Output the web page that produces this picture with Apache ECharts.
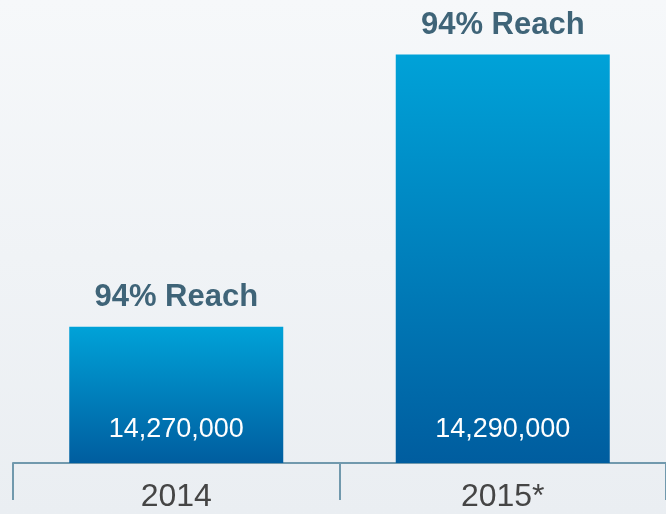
<!DOCTYPE html>
<html>
<head>
<meta charset="utf-8">
<script src="https://cdn.jsdelivr.net/npm/echarts@6/dist/echarts.min.js"></script>
<style>
  html, body { margin: 0; padding: 0; }
  #chart { width: 666px; height: 514px; }
</style>
</head>
<body>
<div id="chart"></div>
<script>
const years = ['2014', '2015*'];
const audience = [14270000, 14290000];
const reach = ['94% Reach', '94% Reach'];

const chart = echarts.init(document.getElementById('chart'));

const barFill = new echarts.graphic.LinearGradient(0, 0, 0, 1, [
  { offset: 0, color: '#00a2d8' },
  { offset: 1, color: '#005d9f' }
]);

const option = {
  backgroundColor: new echarts.graphic.LinearGradient(0, 0, 0, 1, [
    { offset: 0, color: '#f6f8fa' },
    { offset: 1, color: '#eaeef2' }
  ]),
  animation: false,
  grid: { left: 13, width: 654, top: 0, bottom: 51 },
  xAxis: {
    type: 'category',
    data: years,
    axisLine: { lineStyle: { color: '#7199ad', width: 2 } },
    axisTick: { show: true, length: 37, lineStyle: { color: '#7199ad', width: 2 } },
    axisLabel: {
      color: '#454545',
      fontSize: 32,
      fontFamily: 'Liberation Sans',
      margin: 18
    }
  },
  yAxis: {
    type: 'value',
    min: 14260000,
    max: 14294000,
    show: false
  },
  series: [
    {
      type: 'bar',
      data: audience,
      barWidth: 214,
      itemStyle: { color: barFill },
      label: {
        show: true,
        position: 'insideBottom',
        distance: 20,
        color: '#ffffff',
        fontSize: 27,
        fontFamily: 'Liberation Sans',
        formatter: p => p.value.toLocaleString('en-US')
      }
    },
    {
      type: 'bar',
      data: audience,
      barWidth: 214,
      barGap: '-100%',
      itemStyle: { color: 'rgba(0,0,0,0)' },
      label: {
        show: true,
        position: 'top',
        distance: 14,
        color: '#3f6478',
        fontSize: 31,
        fontWeight: 'bold',
        fontFamily: 'Liberation Sans',
        formatter: p => reach[p.dataIndex]
      }
    }
  ]
};

chart.setOption(option);
</script>
</body>
</html>
